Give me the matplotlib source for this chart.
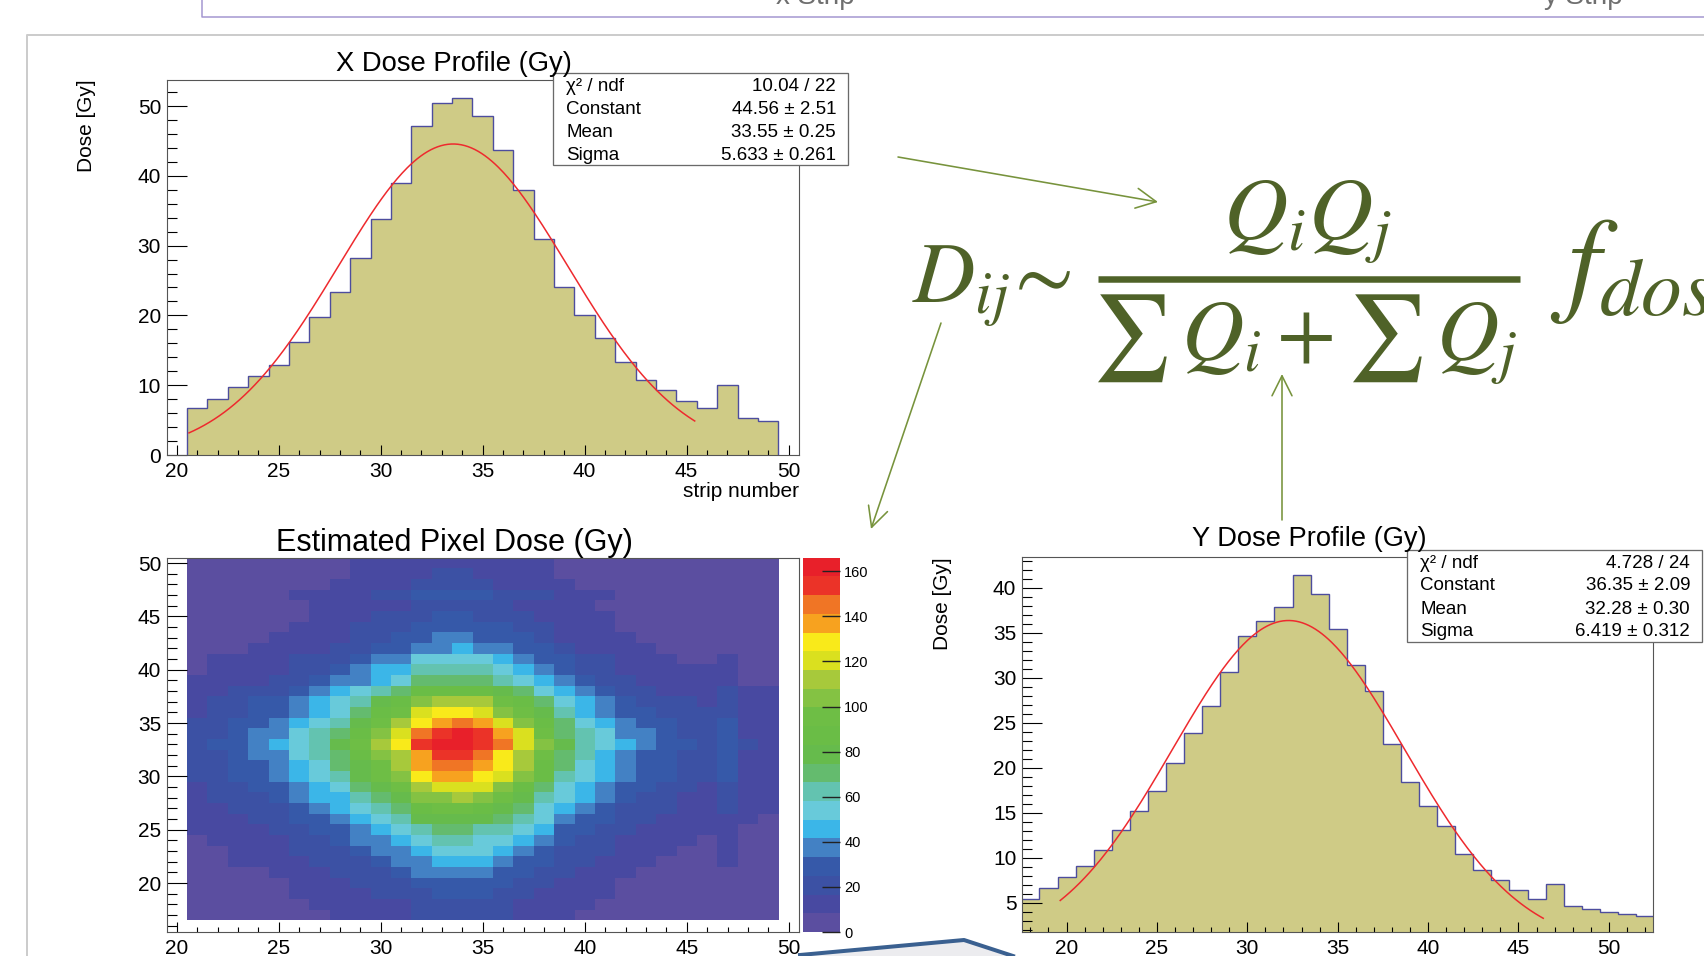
import numpy as np
import matplotlib
matplotlib.use('Agg')
import matplotlib.pyplot as plt
from matplotlib.colors import ListedColormap, BoundaryNorm
from matplotlib.patches import Rectangle, Polygon
from matplotlib.lines import Line2D
from matplotlib.ticker import MultipleLocator

plt.rcParams['font.family'] = ['Liberation Sans', 'DejaVu Sans']
plt.rcParams['mathtext.fontset'] = 'stix'

W, H, DPI = 1704, 956, 100

# ---------------- data ----------------
x_strips = list(range(21, 50))
x_dose = [6.7, 8.0, 9.7, 11.3, 12.9, 16.2, 19.8, 23.4, 28.2, 33.8, 39.0, 47.2, 50.5, 51.1,
          48.5, 43.7, 37.9, 31.0, 24.0, 20.0, 16.7, 13.3, 10.8, 9.3, 7.7, 6.8, 10.0, 5.3, 4.9]
x_fit = {'Constant': 44.56, 'Mean': 33.55, 'Sigma': 5.633, 'from': 20.6, 'to': 45.4}
x_stats = [('χ² / ndf', '10.04 / 22'), ('Constant', '44.56 ± 2.51'),
           ('Mean', '33.55 ± 0.25'), ('Sigma', '5.633 ± 0.261')]

y_strips = list(range(18, 53))
y_dose = [5.4, 6.6, 7.8, 9.1, 10.9, 13.1, 15.2, 17.4, 20.5, 23.8, 26.9, 30.6, 34.6, 36.3,
          37.9, 41.4, 39.3, 35.4, 31.4, 28.5, 22.6, 18.4, 15.7, 13.5, 10.4, 8.6, 7.5, 6.4,
          5.4, 7.1, 4.6, 4.3, 4.0, 3.7, 3.5]
y_fit = {'Constant': 36.35, 'Mean': 32.28, 'Sigma': 6.419, 'from': 19.65, 'to': 46.37}
y_stats = [('χ² / ndf', '4.728 / 24'), ('Constant', '36.35 ± 2.09'),
           ('Mean', '32.28 ± 0.30'), ('Sigma', '6.419 ± 0.312')]

# pixel dose map: colour level per cell (0..j = 20 levels of 8.3 Gy), rows y=50 .. 17, cols x=21..49
pix_x = list(range(21, 50))
pix_y = list(range(50, 16, -1))
pix_levels = [
    "00000000111111111100000000000",
    "00000000111122111100000000000",
    "00000001111222211110000000000",
    "00000111122333322211100000000",
    "00000011111222221111000000000",
    "00000011122233222111100000000",
    "00000111222333332211100000000",
    "00001111223344333211110000000",
    "00011112233445443321111000000",
    "01111222344666654332211100100",
    "01111223455777765432211111100",
    "11112234456888876543221111100",
    "11222345678aaaa98654322111211",
    "1223345679acdddba865432221211",
    "122334568abeffecb975433222211",
    "223345679bdfghgeca86543322311",
    "22344678acehijigeb87644322311",
    "23345679bdfijjihec97654332321",
    "22344678acdgiihfdb87543322311",
    "223345689bdghhgfda86543322311",
    "223345679bcfggfeca76543322311",
    "1223345689bdeeeca865433221211",
    "12223455789ccdcb9765432211211",
    "11222345678abba98654322211211",
    "11122334567999987643322111110",
    "11112233456788776533221111100",
    "01111223445677665432211110100",
    "00111222344566654322211100100",
    "00111122234455543322111000100",
    "00001112223444433221110000000",
    "00000111222333332211100000000",
    "00000111122233322111100000000",
    "00000011111222221111000000000",
    "00000001111222221110000000000",
]
z_max = 166.0
n_levels = 20
palette = ['#5B4EA0', '#4849A1', '#3C51A4', '#3659A9', '#4381C4', '#3BB6E8', '#68CADA',
           '#63C3B0', '#64BB6E', '#66BB4C', '#6ABD46', '#6EBE45', '#84C243', '#A7C93B',
           '#DAE01F', '#F9EA1A', '#F7A21F', '#F07525', '#EB3328', '#E8202A']

# ---------------- figure ----------------
fig = plt.figure(figsize=(W / DPI, H / DPI), dpi=DPI)
fig.patch.set_facecolor('white')

def px_axes(l, t, r, b, **kw):
    return fig.add_axes([l / W, 1 - b / H, (r - l) / W, (b - t) / H], **kw)

PX = 0.72  # points per pixel
HIST_FILL = '#CFCB86'
HIST_LINE = '#4D4D9E'
FIT_RED = '#EE2A2E'
SPINE = '#555555'

def style_axes(ax, xmaj, xmin, ymaj, ymin):
    ax.xaxis.set_major_locator(MultipleLocator(xmaj))
    ax.xaxis.set_minor_locator(MultipleLocator(xmin))
    ax.yaxis.set_major_locator(MultipleLocator(ymaj))
    ax.yaxis.set_minor_locator(MultipleLocator(ymin))
    ax.tick_params(axis='x', which='major', direction='in', length=10 * PX, width=0.8, pad=5, labelsize=15)
    ax.tick_params(axis='x', which='minor', direction='in', length=5 * PX, width=0.8)
    ax.tick_params(axis='y', which='major', direction='in', length=20 * PX, width=0.8, pad=4, labelsize=15)
    ax.tick_params(axis='y', which='minor', direction='in', length=10 * PX, width=0.8)
    for s in ax.spines.values():
        s.set_color(SPINE)
        s.set_linewidth(0.8)

def gauss(p, xs):
    return p['Constant'] * np.exp(-0.5 * ((xs - p['Mean']) / p['Sigma']) ** 2)

def profile(ax, strips, dose, fit, xlim, ylim):
    strips = np.asarray(strips, float)
    edges = np.append(strips - 0.5, strips[-1] + 0.5)
    ax.stairs(dose, edges, baseline=0, fill=True, color=HIST_FILL, zorder=1)
    ax.stairs(dose, edges, baseline=0, fill=False, color=HIST_LINE, lw=1.0, zorder=2)
    xs = np.linspace(fit['from'], fit['to'], 300)
    ax.plot(xs, gauss(fit, xs), color=FIT_RED, lw=1.1, zorder=3)
    ax.set_xlim(*xlim)
    ax.set_ylim(*ylim)

# X dose profile
ax1 = px_axes(166.6, 79.5, 798.7, 455)
profile(ax1, x_strips, x_dose, x_fit, (19.5, 50.5), (0, 53.8))
style_axes(ax1, 5, 1, 10, 2)

# Y dose profile
ax3 = px_axes(1021.9, 556.7, 1653.5, 932.3)
profile(ax3, y_strips, y_dose, y_fit, (17.53, 52.47), (1.71, 43.44))
style_axes(ax3, 5, 1, 5, 1)

# Pixel dose map
ax2 = px_axes(166.6, 557.7, 799, 932)
lev_chars = '0123456789abcdefghij'
lev = np.array([[lev_chars.index(c) for c in row] for row in pix_levels], float)
zvals = (lev + 0.5) * z_max / n_levels
px_arr = np.asarray(pix_x, float)
py_arr = np.asarray(pix_y, float)
xe = np.append(px_arr - 0.5, px_arr[-1] + 0.5)
ye = np.append(py_arr + 0.5, py_arr[-1] - 0.5)
cmap = ListedColormap(palette)
bounds = np.linspace(0, z_max, n_levels + 1)
norm = BoundaryNorm(bounds, cmap.N)
mesh = ax2.pcolormesh(xe, ye, zvals, cmap=cmap, norm=norm, shading='flat')
ax2.set_xlim(19.5, 50.5)
ax2.set_ylim(15.42, 50.5)
style_axes(ax2, 5, 1, 5, 1)

cax = px_axes(803, 557.7, 840, 932)
cb = fig.colorbar(mesh, cax=cax, ticks=list(range(0, 161, 20)))
cb.outline.set_visible(False)
cax.tick_params(direction='in', length=18 * PX, width=1.0, color='#222222', labelsize=10.5, pad=3)
cax.minorticks_off()

# ---------------- overlay (pixel coordinates) ----------------
ov = fig.add_axes([0, 0, 1, 1], zorder=10)
ov.set_xlim(0, W)
ov.set_ylim(H, 0)
ov.axis('off')
ov.patch.set_alpha(0)

# slide decorations
ov.add_line(Line2D([202, 202, W], [0, 17.4, 17.4], color='#A395D0', lw=1.5 * PX))
ov.text(815, 4, 'x Strip', ha='center', va='baseline', fontsize=20, color='#6F6F6F')
ov.text(1583, 4, 'y Strip', ha='center', va='baseline', fontsize=20, color='#6F6F6F')
ov.add_line(Line2D([27.2, 27.2, W], [H, 34.8, 34.8], color='#CCCCCC', lw=2 * PX))
ov.add_patch(Polygon([(800, 956), (964, 940), (1013, 956)], closed=True,
                     facecolor='#ECECEF', edgecolor='none'))
ov.add_line(Line2D([800, 964, 1013], [955, 940, 956], color='#3A6090', lw=4 * PX))

# stat boxes
def stat_box(l, t, r, b, rows):
    ov.add_patch(Rectangle((l, t), r - l, b - t, facecolor='white', edgecolor='#6A6A6A',
                           lw=1.3 * PX, zorder=2))
    step = (b - t) / 4.0
    for i, (name, val) in enumerate(rows):
        yc = t + step * (i + 0.5) + 1.5
        ov.text(l + 13, yc, name, ha='left', va='center', fontsize=13.5, zorder=3)
        ov.text(r - 12, yc, val, ha='right', va='center', fontsize=13.5, zorder=3)

stat_box(553, 73, 848, 165, x_stats)
stat_box(1407, 550, 1702, 642, y_stats)

# titles and axis labels
ov.text(454, 63.5, 'X Dose Profile (Gy)', ha='center', va='center', fontsize=19.7, zorder=4)
ov.text(454, 543, 'Estimated Pixel Dose (Gy)', ha='center', va='center', fontsize=22, zorder=4)
ov.text(1309, 539.5, 'Y Dose Profile (Gy)', ha='center', va='center', fontsize=19.6, zorder=4)
ov.text(87, 79, 'Dose [Gy]', rotation=90, ha='center', va='top', fontsize=15)
ov.text(942, 557, 'Dose [Gy]', rotation=90, ha='center', va='top', fontsize=15)
ov.text(799, 491, 'strip number', ha='right', va='center', fontsize=15)

# formula
GREEN = '#4F6228'
ov.text(912, 303, r'$D_{ij}\!\sim$', ha='left', va='baseline', fontsize=62, color=GREEN)
ov.text(1307, 240, r'$Q_iQ_j$', ha='center', va='baseline', fontsize=64, color=GREEN)
ov.add_line(Line2D([1098, 1520], [279, 279], color=GREEN, lw=6.5 * PX, solid_capstyle='butt'))
ov.text(1305, 361, r'$\sum\, Q_i+\sum\, Q_j$', ha='center', va='baseline', fontsize=62, color=GREEN)
ov.text(1550, 300, r'$f_{dose}$', ha='left', va='baseline', fontsize=84, color=GREEN)

# arrows
AGREEN = '#77933C'
arrow_kw = dict(arrowstyle='->,head_length=0.9,head_width=0.45', color=AGREEN,
                lw=1.6 * PX, mutation_scale=16, shrinkA=0, shrinkB=0)
ov.annotate('', xy=(1158, 202), xytext=(898, 157), arrowprops=arrow_kw)
ov.annotate('', xy=(871, 529), xytext=(941, 323), arrowprops=arrow_kw)
ov.annotate('', xy=(1282, 374), xytext=(1282, 520), arrowprops=arrow_kw)

fig.savefig('out.png', dpi=DPI, facecolor='white')
